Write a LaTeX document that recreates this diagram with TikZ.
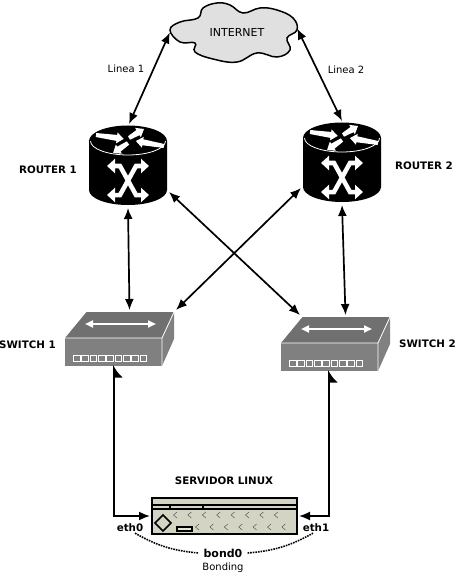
\documentclass[tikz,border=0pt]{standalone}
\usepackage{fontspec}
\setmainfont{DejaVu Sans}
\usetikzlibrary{arrows.meta}
\definecolor{cloudgray}{HTML}{E0E0E0}
\definecolor{swtop}{HTML}{707070}
\definecolor{swfront}{HTML}{808080}
\definecolor{srvbody}{HTML}{D4D4C4}
\begin{document}
\begin{tikzpicture}[
    x=1pt, y=-1pt,
    % --- Node styles ---
    rtrbox/.style={rectangle, minimum width=78pt, minimum height=80pt, inner sep=0pt, outer sep=2pt},
    swbox/.style={rectangle, minimum width=109pt, minimum height=54pt, inner sep=0pt, outer sep=2pt},
    srvbox/.style={rectangle, minimum width=145pt, minimum height=36pt, inner sep=0pt, outer sep=2pt},
    inetbox/.style={rectangle, minimum width=127pt, minimum height=59pt, inner sep=0pt, font=\fontsize{11}{13}\selectfont},
    devlabel/.style={font=\fontsize{10.3}{12}\selectfont\bfseries, inner sep=0pt},
    ethlabel/.style={font=\fontsize{10.3}{12}\selectfont\bfseries, inner sep=1pt},
    annot/.style={font=\fontsize{10}{12}\selectfont, inner sep=0pt},
    % --- Arrow styles ---
    link/.style={{Latex[length=11pt, width=9pt]}-{Latex[length=11pt, width=9pt]}, line width=1.7pt},
    uplink/.style={{Latex[length=11pt, width=18pt, right]}-{Latex[length=11pt, width=9pt]}, line width=1.7pt},
    bonddot/.style={densely dotted, line width=1.6pt},
    xarrow/.style={{Triangle[length=8pt, width=14pt]}-{Triangle[length=8pt, width=14pt]}, white, line width=4.5pt},
    % --- Device drawings ---
    rtrpic/.pic={
      \fill[black] (-39,-25) -- (-39,24) arc[start angle=180, end angle=360, x radius=39pt, y radius=15pt] -- (39,-25) -- cycle;
      \fill[black] (0,-25) ellipse[x radius=39pt, y radius=15.5pt];
      \draw[white, line width=0.8pt] (-37.5,-25) arc[start angle=180, end angle=360, x radius=37.5pt, y radius=14pt];
      \foreach \tx/\ty/\ang/\len in {-32/-31/-8/28, 1/-28/31/17.5, 36/-20/170/28.5, 0/-23/214/18}
        \fill[white, shift={(\tx,\ty)}, rotate=\ang]
          (0,-2) -- (\len-7,-3) -- (\len-7,-5.5) -- (\len,0) -- (\len-7,5.5) -- (\len-7,3) -- (0,2) -- cycle;
      \draw[xarrow] (-21,0) -- (-8,0) -- (8,29) -- (21,29);
      \draw[xarrow] (-21,29) -- (-8,29) -- (8,0) -- (21,0);
    },
    swpic/.pic={
      \fill[swtop] (-33,-27) -- (54.5,-27) -- (42.5,-1) -- (-54.5,-1) -- cycle;
      \fill[swfront] (-54.5,-1) rectangle (42.5,27);
      \fill[swfront] (54.5,-27) -- (54.5,0) -- (42.5,27) -- (42.5,-1) -- cycle;
      \draw[white, line width=0.8pt] (-54.5,-1) -- (42.5,-1) -- (54.5,-27) (42.5,-1) -- (42.5,27);
      \draw[white, line width=2pt, {Triangle[length=8pt, width=7pt]}-{Triangle[length=8pt, width=7pt]}] (-34.5,-15) -- (36.5,-15);
      \foreach \i in {0,...,8}
        \draw[white, fill=swfront, line width=1pt] (-46+8.33*\i,16) rectangle ++(6.8,6);
    },
    srvpic/.pic={
      \draw[black, fill=srvbody, line width=1.6pt] (-72.5,-18) rectangle (72.5,18);
      \draw[black, line width=1.2pt] (-72.5,-11) -- (72.5,-11) (-72.5,-7) -- (72.5,-7);
      \draw[black, line width=1.2pt] (-54.5,-11) -- (-54.5,-7) (-21.5,-11) -- (-21.5,-7);
      \foreach \i in {0,...,7}
        \draw[black!65, line width=0.5pt] (-47.5+14.4*\i,-4) -- (-51+14.4*\i,-1) -- (-47.5+14.4*\i,2);
      \foreach \i in {0,...,6}
        \draw[black!65, line width=0.5pt] (-25.5+14.4*\i,8) -- (-29+14.4*\i,11) -- (-25.5+14.4*\i,14);
      \draw[black, fill=srvbody, line width=1.6pt] (-69.5,7) -- (-61.5,-1) -- (-53.5,7) -- (-61.5,15) -- cycle;
      \draw[black, fill=srvbody!60!white, line width=1.2pt] (-47.5,11) rectangle (-32.5,15);
    },
  ]
    \useasboundingbox (0,0) rectangle (455,580);

    % ===================== CLOUD =====================
    \draw[black, fill=cloudgray, line width=1.5pt, tension=0.7] plot[smooth cycle] coordinates {
      (170,30) (180,22) (198,18) (203,8) (217,3) (230,5) (243,13) (260,8) (277,10) (293,18)
      (297,30) (287,38) (290,50) (277,57) (257,53) (237,62) (213,59) (195,52) (195,43) (180,42)};
    \node[inetbox] (inet) at (233.5,32.5) {\hspace*{7pt}INTERNET};

    % ===================== DEVICES =====================
    \node[rtrbox] (rtrA) at (128,166) {};
    \node[rtrbox] (rtrB) at (342,163) {};
    \node[swbox]  (swA)  at (119.5,339) {};
    \node[swbox]  (swB)  at (335.5,344) {};
    \node[srvbox] (srv)  at (224.5,516) {};
    \pic at (rtrA.center) {rtrpic};
    \pic at (rtrB.center) {rtrpic};
    \pic at (swA.center) {swpic};
    \pic at (swB.center) {swpic};
    \pic at (srv.center) {srvpic};

    % ===================== LABELS =====================
    \node[annot] (lineaA) at (126,69) {Linea 1};
    \node[annot] (lineaB) at (346,70) {Linea 2};
    \node[devlabel] (rtrAlbl) at (48,170) {ROUTER 1};
    \node[devlabel] (rtrBlbl) at (424,166) {ROUTER 2};
    \node[devlabel] (swAlbl)  at (27.5,345) {SWITCH 1};
    \node[devlabel] (swBlbl)  at (427.5,344) {SWITCH 2};
    \node[devlabel] (srvlbl)  at (224,481) {SERVIDOR LINUX};
    \node[ethlabel] (ethA) at (130,528) {eth0};
    \node[ethlabel] (ethB) at (316,528) {eth1};
    \node[ethlabel, font=\fontsize{11}{13}\selectfont\bfseries, inner sep=5pt] (bond) at (223,553) {bond0};
    \node[annot] (bondlbl) at (223,568) {Bonding};

    % ===================== ARROWS =====================
    \draw[link] (inet.west) -- ([xshift=1pt]rtrA.north);
    \draw[link] ([yshift=4pt]inet.east) -- (rtrB.north);
    \draw[link] (rtrA.south) -- ([xshift=10pt]swA.north);
    \draw[link] (rtrB.south) -- ([xshift=10pt]swB.north);
    \draw[link] ([yshift=-26pt]rtrA.east) -- ([xshift=21pt]swB.north west);
    \draw[link] ([yshift=-25pt]rtrB.west) -- (swA.north east);
    \draw[uplink] ([xshift=-5.5pt, yshift=3pt]swA.south) |- (srv.west);
    \draw[uplink] ([xshift=-6.5pt, yshift=3pt]swB.south) |- (srv.east);

    % bonding arcs
    \draw[bonddot] ([xshift=5pt]ethA.south) to[bend right=12] (bond.west);
    \draw[bonddot] (bond.east) to[bend right=12] ([xshift=-3pt]ethB.south);

  \end{tikzpicture}
\end{document}
